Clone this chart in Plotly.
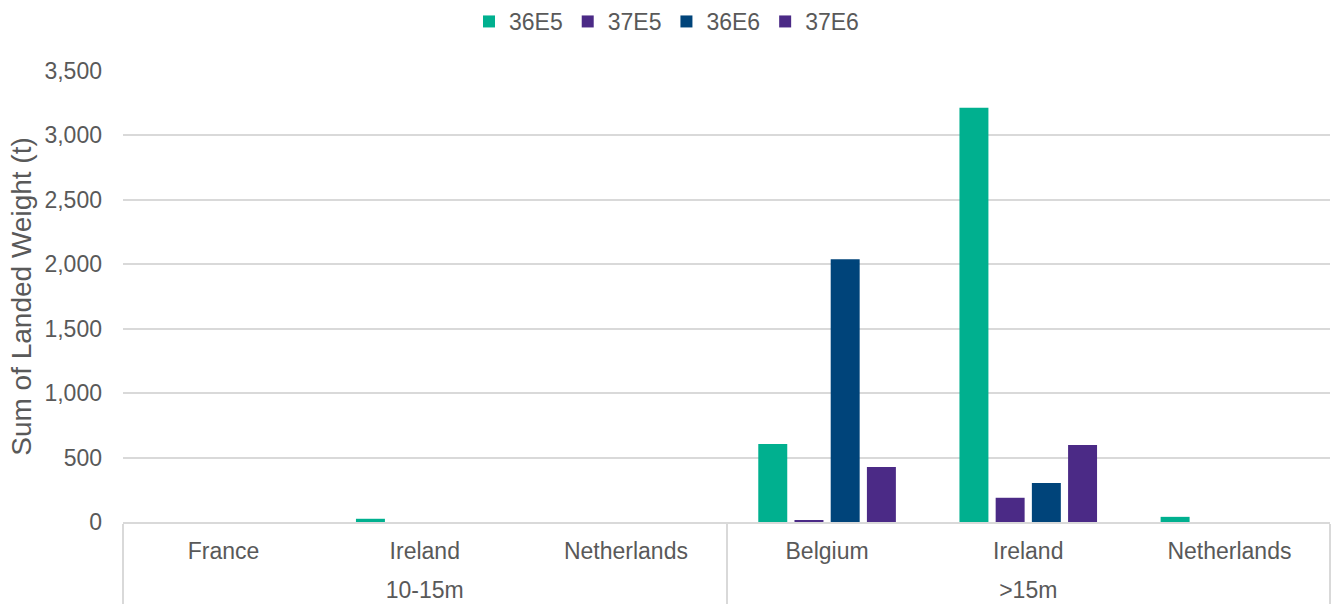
import plotly.graph_objects as go

# rows are listed so that Plotly's multicategory ordering gives
# 10-15m: France, Ireland, Netherlands | >15m: Belgium, Ireland, Netherlands
vessel_length = ["10-15m", ">15m", "10-15m", "10-15m", ">15m", ">15m"]
country = ["France", "Belgium", "Ireland", "Netherlands", "Ireland", "Netherlands"]

s_36E5 = [None, 605, 25, None, 3215, 40]
s_37E5 = [None, 10, None, None, 188, None]
s_36E6 = [None, 2040, None, None, 303, None]
s_37E6 = [None, 427, None, None, 598, None]

series = [
    ("36E5", s_36E5, "#00B08F"),
    ("37E5", s_37E5, "#4B2A86"),
    ("36E6", s_36E6, "#00447A"),
    ("37E6", s_37E6, "#4B2A86"),
]

FONT = "Liberation Sans, Arial, sans-serif"
TXT = "#595959"

# invisible wide spacers enlarge the first-level label box so the
# second-level labels sit lower, as in the reference
pad = "<span style='font-size:40px'> </span>"
country_lbl = [pad + c + pad for c in country]

fig = go.Figure()
for name, vals, col in series:
    fig.add_trace(go.Bar(
        x=[vessel_length, country_lbl], y=vals, name=name,
        marker=dict(color=col, line=dict(width=0)),
    ))

fig.update_layout(
    width=1333, height=604,
    margin=dict(l=123, r=3, t=71, b=82, autoexpand=False),
    paper_bgcolor="white", plot_bgcolor="white",
    font=dict(family=FONT, size=23, color=TXT),
    barmode="group", bargap=0.28, bargroupgap=0.2,
    showlegend=True,
    legend=dict(orientation="h", x=0.5, xanchor="center", xref="container",
                y=1.0, yanchor="top", yref="container",
                font=dict(size=23, color=TXT), itemwidth=30,
                traceorder="normal"),
    xaxis=dict(
        type="multicategory", showline=True, linecolor="#d9d9d9", linewidth=2,
        showgrid=False, ticks="", ticklabelstandoff=7,
        showdividers=True, dividercolor="#d9d9d9",
        dividerwidth=2, tickfont=dict(size=23, color=TXT), automargin=False,
    ),
    yaxis=dict(
        range=[0, 3500], dtick=500, tickformat=",", showgrid=True,
        gridcolor="#d9d9d9", gridwidth=1.5, zeroline=False, showline=False,
        ticks="", ticklabelstandoff=20, tickfont=dict(size=23, color=TXT),
        title=dict(text="Sum of Landed Weight (t)", font=dict(size=28, color=TXT), standoff=4),
        automargin=False,
    ),
)

fig.write_html("out.html")
